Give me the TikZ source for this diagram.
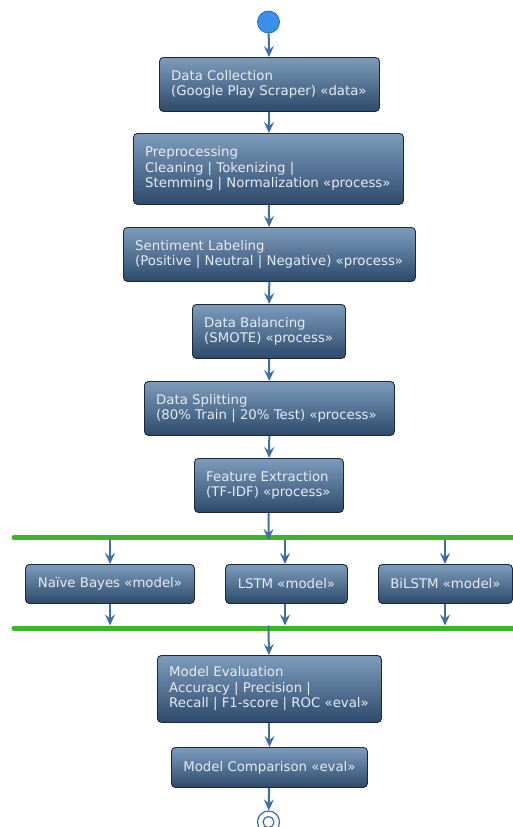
\documentclass[tikz,border=0pt]{standalone}
\usepackage{fontspec}
\setmainfont{DejaVu Sans}
\usetikzlibrary{arrows.meta}
\definecolor{boxtop}{HTML}{7D9CBC}
\definecolor{boxbot}{HTML}{2D4A6B}
\definecolor{boxline}{HTML}{1E2834}
\definecolor{txt}{HTML}{E6ECF2}
\definecolor{arrowc}{HTML}{3F6EA5}
\definecolor{barc}{HTML}{3DB52A}
\definecolor{startc}{HTML}{3A8FEA}
\definecolor{startb}{HTML}{2A6CC0}
\tikzset{
  act/.style={rectangle, rounded corners=4pt, draw=boxline, line width=0.9pt,
    top color=boxtop, bottom color=boxbot, inner sep=0pt, anchor=north west},
  acttext/.style={text=txt, font=\fontsize{13.3}{15.5}\selectfont, inner sep=0pt},
  flow/.style={draw=arrowc, line width=2pt, -{Stealth[length=11pt,width=10pt,inset=4pt]}},
  bar/.style={draw=barc, line width=5pt, line cap=round},
}
\newcommand{\actbox}[6]{% name, x, y, w, h, text
  \node[act, minimum width=#4pt, minimum height=#5pt] (#1) at (#2,#3) {};
  \node[acttext, align=left, anchor=west] at ([xshift=12pt]#1.west) {#6};
}
\newcommand{\actboxc}[6]{%
  \node[act, minimum width=#4pt, minimum height=#5pt] (#1) at (#2,#3) {};
  \node[acttext, align=center] at (#1.center) {#6};
}
\begin{document}
\begin{tikzpicture}[x=1pt,y=-1pt]
\useasboundingbox (0,0) rectangle (513,827);
\node[circle, fill=startc, draw=startb, line width=0.8pt, minimum size=22pt, inner sep=0pt] (start) at (268.5,22) {};
\actbox{dc}{159}{57}{220}{54}{Data Collection\\(Google Play Scraper) «data»}
\actbox{pp}{133}{133}{270}{71}{Preprocessing\\Cleaning | Tokenizing |\\Stemming | Normalization «process»}
\actbox{sl}{123}{227}{292}{54}{Sentiment Labeling\\(Positive | Neutral | Negative) «process»}
\actbox{db}{192}{304}{153}{54}{Data Balancing\\(SMOTE) «process»}
\actbox{ds}{144}{381}{250}{54}{Data Splitting\\(80\% Train | 20\% Test) «process»}
\actbox{fe}{194}{458}{149}{54}{Feature Extraction\\(TF-IDF) «process»}
\coordinate (f1) at (268.5,537.5);
\draw[bar] (14,537.5) -- (520,537.5);
\actboxc{nb}{25}{564}{169}{39}{Naïve Bayes «model»}
\actboxc{ls}{225}{564}{122}{39}{LSTM «model»}
\actboxc{bl}{378}{564}{134}{39}{BiLSTM «model»}
\coordinate (j1) at (268.5,628);
\draw[bar] (14,628) -- (520,628);
\actbox{me}{157}{655}{224}{67}{Model Evaluation\\Accuracy | Precision |\\Recall | F1-score | ROC «eval»}
\actboxc{mc}{171}{747}{196}{40}{Model Comparison «eval»}
\node[circle, draw=arrowc, line width=1.2pt, fill=white, minimum size=22pt, inner sep=0pt] (end) at (268.5,822) {};
\node[circle, draw=arrowc, line width=1.2pt, minimum size=11pt, inner sep=0pt] at (end.center) {};
\draw[flow] (start) -- (dc);
\draw[flow] (dc) -- (pp);
\draw[flow] (pp) -- (sl);
\draw[flow] (sl) -- (db);
\draw[flow] (db) -- (ds);
\draw[flow] (ds) -- (fe);
\draw[flow] (fe) -- ([yshift=-2.5pt]f1);
\coordinate (f1a) at (110,540);
\coordinate (f1b) at (285,540);
\coordinate (f1c) at (445,540);
\draw[flow] (f1a) -- (nb.north -| f1a);
\draw[flow] (f1b) -- (ls.north -| f1b);
\draw[flow] (f1c) -- (bl.north -| f1c);
\coordinate (j1a) at (110,625.5);
\coordinate (j1b) at (285,625.5);
\coordinate (j1c) at (445,625.5);
\draw[flow] (nb.south -| j1a) -- (j1a);
\draw[flow] (ls.south -| j1b) -- (j1b);
\draw[flow] (bl.south -| j1c) -- (j1c);
\draw[flow] ([yshift=2.5pt]j1) -- (me);
\draw[flow] (me) -- (mc);
\draw[flow] (mc) -- (end);
\end{tikzpicture}
\end{document}
